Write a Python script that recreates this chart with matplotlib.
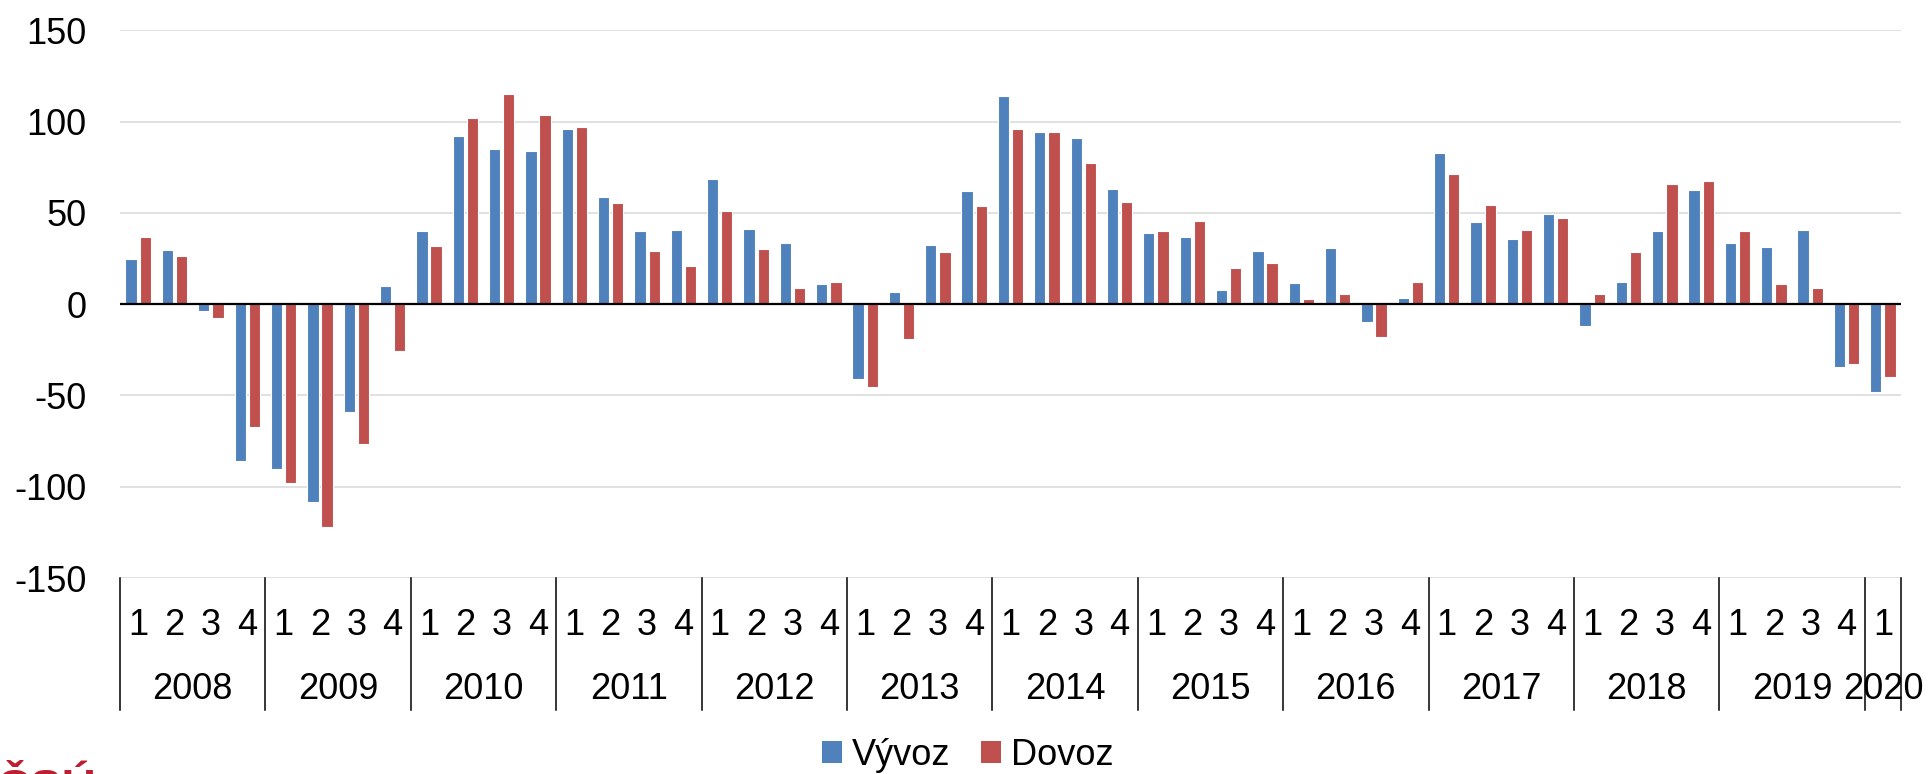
import numpy as np
import matplotlib
matplotlib.use("Agg")
import matplotlib.pyplot as plt
from matplotlib.patches import Patch

plt.rcParams['font.family'] = ['Liberation Sans', 'DejaVu Sans']
plt.rcParams['axes.unicode_minus'] = False

# data: quarterly values 2008Q1 .. 2020Q1
years = ['2008', '2009', '2010', '2011', '2012', '2013', '2014',
         '2015', '2016', '2017', '2018', '2019', '2020']
quarters_per_year = [4, 4, 4, 4, 4, 4, 4, 4, 4, 4, 4, 4, 1]
vyvoz = [25, 29.5, -3.7, -85.7,
         -90.4, -108.2, -58.9, 10,
         40.1, 92, 85.1, 84,
         96.1, 58.5, 40.3, 40.5,
         68.5, 41.3, 33.7, 11,
         -41.1, 6.5, 32.5, 61.8,
         114.3, 94.3, 91.2, 63,
         39.1, 36.8, 7.6, 29.4,
         11.5, 30.9, -10, 3.3,
         83, 45.2, 35.8, 49.3,
         -11.9, 12.3, 39.9, 62.4,
         33.7, 31.5, 40.7, -34.6,
         -48.1]
dovoz = [36.8, 26.6, -7.4, -67.5,
         -98.2, -121.9, -76.7, -25.8,
         32.1, 102.2, 114.9, 103.9,
         97.3, 55.6, 29.4, 20.7,
         50.9, 30.1, 8.8, 12.1,
         -45.2, -18.8, 28.4, 53.6,
         96.1, 94.1, 77.3, 55.8,
         40.1, 45.6, 20, 22.7,
         2.9, 5.7, -18, 12.1,
         71.4, 54.4, 40.5, 47.2,
         5.7, 28.6, 66, 67.3,
         40.1, 11, 8.8, -32.5,
         -39.9]

blue = '#4F81BD'
red = '#C0504D'
FS = 26

fig = plt.figure(figsize=(19.3, 7.74), dpi=100)
ax = fig.add_axes([0.0622, 0.2532, 0.9228, 0.7075])

x = np.arange(len(vyvoz))
w = 0.31
off = 0.195
ax.bar(x - off, vyvoz, width=w, color=blue, edgecolor='white', linewidth=0.8, zorder=3)
ax.bar(x + off, dovoz, width=w, color=red, edgecolor='white', linewidth=0.8, zorder=3)

ax.set_xlim(-0.5, len(vyvoz) - 0.5)
ax.set_ylim(-150, 150)
ax.set_yticks(np.arange(-150, 151, 50))
ax.tick_params(axis='y', length=0, pad=24, labelsize=FS)
ax.set_xticks([])
ax.yaxis.grid(True, color='#D9D9D9', linewidth=1.1, zorder=0)
ax.axhline(0, color='black', linewidth=1.6, zorder=4)
for s in ax.spines.values():
    s.set_visible(False)

# multi-level category axis
trans = ax.get_xaxis_transform()
pos = 0
bounds = [pos]
for yr, n in zip(years, quarters_per_year):
    for q in range(n):
        ax.text(pos + q, -0.086, str(q + 1), transform=trans, ha='center', va='center',
                fontsize=FS, clip_on=False)
    ax.text(pos + (n - 1) / 2, -0.203, yr, transform=trans, ha='center', va='center',
            fontsize=FS, clip_on=False)
    pos += n
    bounds.append(pos)
for b in bounds:
    ax.plot([b - 0.5, b - 0.5], [0, -0.241], transform=trans, color='black',
            linewidth=1.1, clip_on=False)

handles = [Patch(facecolor=blue, label='Vývoz'), Patch(facecolor=red, label='Dovoz')]
fig.legend(handles=handles, loc='center', bbox_to_anchor=(0.5015, 0.0245), ncol=2,
           frameon=False, fontsize=FS, handlelength=0.55, handleheight=0.55,
           handletextpad=0.28, columnspacing=0.85)

# logo remnant, cut off at the bottom edge (as in the source image)
fig.text(-0.002, 0.008, 'ČSÚ', color='#BE1E2D', fontsize=34, fontweight='bold',
         ha='left', va='top')

fig.savefig('out.png', dpi=100)
